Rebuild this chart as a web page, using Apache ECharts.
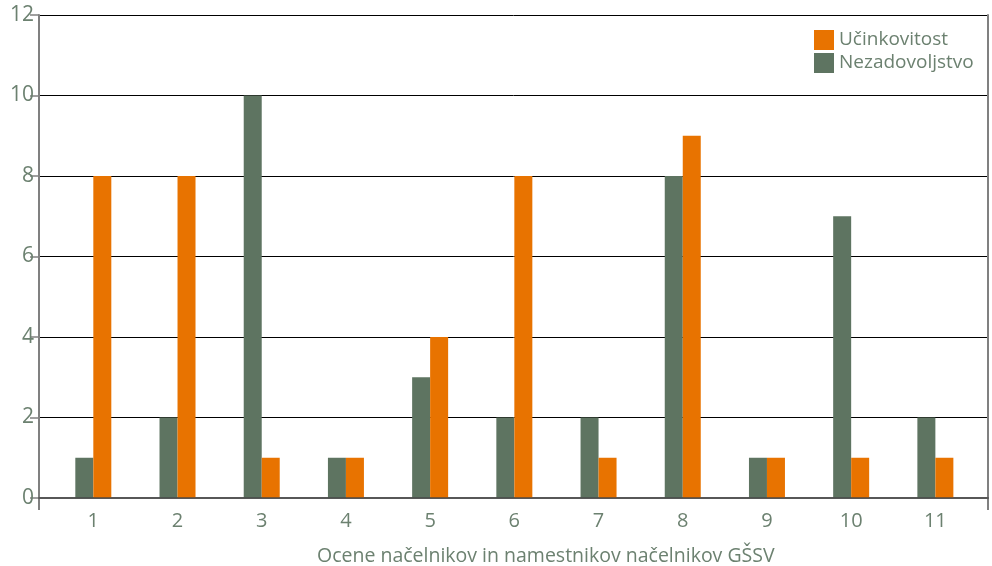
<!DOCTYPE html>
<html>
<head>
<meta charset="utf-8">
<script src="https://cdn.jsdelivr.net/npm/echarts@6/dist/echarts.min.js"></script>
<style>
html,body{margin:0;padding:0;background:#fff;}
#chart{width:992px;height:566px;}
</style>
</head>
<body>
<div id="chart"></div>
<script>
var categories = [1, 2, 3, 4, 5, 6, 7, 8, 9, 10, 11];
var ucinkovitost = [8, 8, 1, 1, 4, 8, 1, 9, 1, 1, 1];
var nezadovoljstvo = [1, 2, 10, 1, 3, 2, 2, 8, 1, 7, 2];
var yTicks = [0, 2, 4, 6, 8, 10, 12];
var xTitle = 'Ocene načelnikov in namestnikov načelnikov GŠSV';

var textColor = '#6c8170';
var frameColor = '#808080';
var orange = '#e87300';
var green = '#5e7461';

var chart = echarts.init(document.getElementById('chart'));
var xMin = 0.355, xMax = 11.625;

var option = {
  animation: false,
  textStyle: { fontFamily: 'Open Sans' },
  grid: { left: 39, right: 4, top: 15, bottom: 68, containLabel: false },
  title: {
    text: xTitle,
    left: 312, top: 541,
    textStyle: { color: textColor, fontSize: 19.5, fontWeight: 'normal', fontFamily: 'Open Sans' }
  },
  legend: {
    orient: 'vertical',
    left: 809, top: 25,
    itemWidth: 20, itemHeight: 20, itemGap: 3,
    icon: 'rect',
    data: ['Učinkovitost', 'Nezadovoljstvo'],
    textStyle: { color: textColor, fontSize: 19, fontFamily: 'Open Sans' }
  },
  xAxis: [{
    type: 'value',
    min: xMin, max: xMax,
    position: 'bottom',
    z: 5,
    axisLine: { show: true, onZero: false, lineStyle: { color: 'rgba(70,70,70,0.7)', width: 2 } },
    axisTick: { show: false },
    splitLine: { show: false },
    axisLabel: {
      show: true,
      customValues: categories,
      color: textColor, fontSize: 20, margin: 13,
      formatter: function (v) { return String(v); }
    }
  }, {
    type: 'value',
    min: xMin, max: xMax,
    position: 'top',
    axisLine: { show: true, lineStyle: { color: frameColor, width: 2 } },
    axisTick: { show: false },
    axisLabel: { show: false },
    splitLine: { show: false }
  }],
  yAxis: [{
    type: 'value',
    min: 0, max: 12, interval: 2,
    axisLine: { show: true, lineStyle: { color: frameColor, width: 2 } },
    axisTick: { show: true, length: 9, lineStyle: { color: frameColor, width: 1.5 } },
    axisLabel: { color: textColor, fontSize: 21, margin: 5 },
    splitLine: { show: true, lineStyle: { color: '#000', width: 1 } }
  }, {
    type: 'value',
    min: 0, max: 12, interval: 2,
    position: 'right',
    axisLine: { show: true, lineStyle: { color: frameColor, width: 2 } },
    axisTick: { show: false },
    axisLabel: { show: false },
    splitLine: { show: false }
  }],
  series: [{
    name: 'Nezadovoljstvo',
    type: 'bar',
    xAxisIndex: 0, yAxisIndex: 0,
    barWidth: 18, barGap: '0%',
    itemStyle: { color: green },
    data: categories.map(function (c, i) { return [c, nezadovoljstvo[i]]; })
  }, {
    name: 'Učinkovitost',
    type: 'bar',
    xAxisIndex: 0, yAxisIndex: 0,
    barWidth: 18, barGap: '0%',
    itemStyle: { color: orange },
    data: categories.map(function (c, i) { return [c, ucinkovitost[i]]; })
  }]
};
chart.setOption(option);

// extend frame verticals slightly below the zero line, as in the reference
var pL = chart.convertToPixel({ xAxisIndex: 0, yAxisIndex: 0 }, [xMin, 0]);
var pR = chart.convertToPixel({ xAxisIndex: 0, yAxisIndex: 0 }, [xMax, 0]);
chart.setOption({
  graphic: [
    { type: 'line', shape: { x1: pL[0], y1: pL[1], x2: pL[0], y2: pL[1] + 12 }, style: { stroke: frameColor, lineWidth: 2 } },
    { type: 'line', shape: { x1: pR[0], y1: pR[1], x2: pR[0], y2: pR[1] + 12 }, style: { stroke: frameColor, lineWidth: 2 } }
  ]
});
</script>
</body>
</html>
